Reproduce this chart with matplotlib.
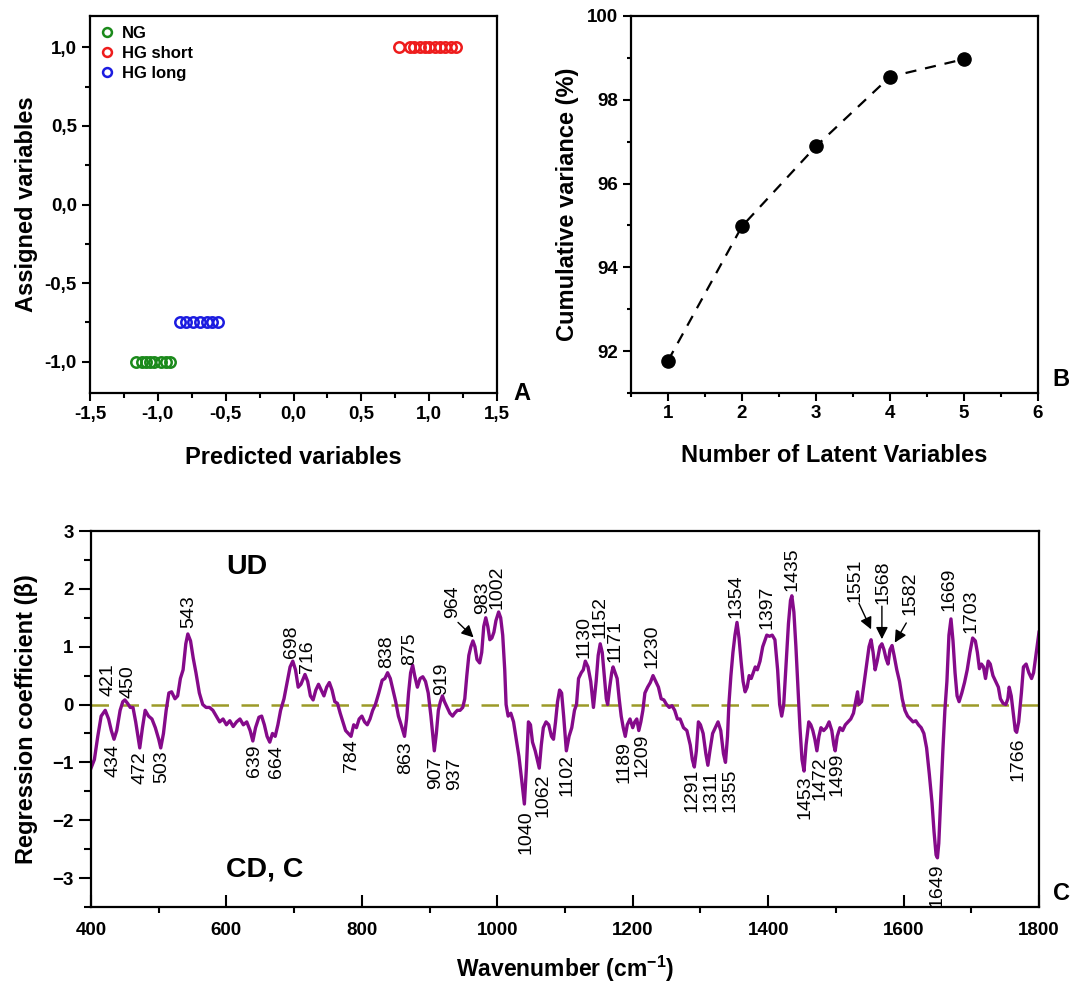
import numpy as np
import matplotlib
matplotlib.use("Agg")
import matplotlib.pyplot as plt
import matplotlib.ticker as ticker

plt.rcParams['font.family'] = ['Liberation Sans', 'DejaVu Sans']
plt.rcParams['font.weight'] = 'bold'
plt.rcParams['axes.labelweight'] = 'bold'
plt.rcParams['mathtext.fontset'] = 'custom'
plt.rcParams['mathtext.rm'] = 'Liberation Sans'
plt.rcParams['mathtext.bf'] = 'Liberation Sans:bold'

# ---- panel A : predicted vs assigned
ng_pred = [-1.16, -1.12, -1.09, -1.06, -1.03, -0.98, -0.94, -0.91]
ng_assigned = [-1.0] * len(ng_pred)
hgs_pred = [0.78, 0.86, 0.89, 0.93, 0.97, 1.00, 1.04, 1.08, 1.12, 1.16, 1.20]
hgs_assigned = [1.0] * len(hgs_pred)
hgl_pred = [-0.84, -0.79, -0.74, -0.69, -0.64, -0.60, -0.56]
hgl_assigned = [-0.75] * len(hgl_pred)

# ---- panel B : cumulative variance
n_lv = [1, 2, 3, 4, 5]
cum_var = [91.77, 94.98, 96.89, 98.55, 98.97]

# ---- panel C : regression coefficients
wn = [400, 405, 410, 415, 421, 426, 430, 434, 438, 443, 447, 450, 454, 458, 462, 466,
      472, 476, 480, 485, 490, 495, 500, 503, 507, 511, 515, 519, 524, 528, 532, 536,
      540, 543, 547, 551, 555, 560, 565, 570, 575, 580, 585, 590, 595, 600, 605, 610,
      615, 620, 625, 630, 635, 639, 643, 648, 652, 656, 660, 664, 668, 672, 676, 680,
      685, 690, 694, 698, 702, 706, 710, 716, 720, 724, 728, 732, 736, 740, 744, 748,
      752, 756, 760, 764, 768, 772, 776, 780, 784, 788, 792, 796, 800, 804, 808, 812,
      816, 820, 825, 830, 834, 838, 842, 846, 850, 854, 858, 863, 866, 869, 872, 875,
      878, 882, 886, 890, 894, 898, 902, 905, 907, 910, 913, 916, 919, 922, 926, 930,
      934, 937, 941, 945, 949, 952, 955, 958, 961, 964, 967, 970, 974, 977, 980, 983,
      986, 989, 992, 995, 998, 1002, 1005, 1008, 1011, 1013, 1016, 1020, 1024, 1028,
      1032, 1036, 1040, 1043, 1046, 1049, 1052, 1056, 1059, 1062, 1065, 1068, 1072,
      1076, 1080, 1083, 1086, 1089, 1092, 1095, 1098, 1102, 1106, 1110, 1114, 1117,
      1120, 1124, 1127, 1130, 1134, 1138, 1142, 1146, 1149, 1152, 1155, 1158, 1161,
      1163, 1166, 1169, 1171, 1174, 1177, 1180, 1183, 1186, 1189, 1192, 1196, 1200,
      1203, 1206, 1209, 1212, 1215, 1218, 1222, 1226, 1230, 1234, 1238, 1242, 1246,
      1250, 1254, 1258, 1262, 1266, 1270, 1275, 1280, 1285, 1288, 1291, 1294, 1297,
      1300, 1304, 1308, 1311, 1314, 1318, 1322, 1326, 1330, 1334, 1337, 1340, 1342,
      1345, 1348, 1351, 1354, 1357, 1360, 1363, 1366, 1369, 1372, 1375, 1378, 1381,
      1384, 1388, 1392, 1395, 1398, 1402, 1406, 1410, 1414, 1417, 1420, 1423, 1426,
      1430, 1433, 1435, 1438, 1441, 1444, 1447, 1450, 1453, 1456, 1460, 1463, 1466,
      1469, 1472, 1475, 1478, 1482, 1486, 1490, 1494, 1497, 1499, 1502, 1506, 1510,
      1514, 1518, 1522, 1526, 1530, 1532, 1534, 1538, 1542, 1546, 1549, 1552, 1555,
      1558, 1561, 1565, 1568, 1571, 1574, 1577, 1580, 1583, 1586, 1590, 1594, 1598,
      1602, 1606, 1610, 1614, 1618, 1622, 1626, 1630, 1634, 1638, 1642, 1645, 1648,
      1650, 1652, 1655, 1658, 1661, 1664, 1667, 1670, 1673, 1676, 1679, 1682, 1686,
      1690, 1694, 1698, 1702, 1706, 1709, 1712, 1715, 1718, 1721, 1725, 1728, 1732,
      1736, 1740, 1743, 1747, 1751, 1754, 1756, 1759, 1762, 1765, 1767, 1770, 1774,
      1777, 1781, 1785, 1789, 1792, 1796, 1800]
beta = [-1.10, -0.95, -0.55, -0.20, -0.10, -0.25, -0.45, -0.60, -0.45, -0.10, 0.05, 0.08, 0.02, -0.05, -0.05, -0.30,
        -0.75, -0.40, -0.10, -0.20, -0.25, -0.40, -0.60, -0.75, -0.50, -0.10, 0.20, 0.22, 0.10, 0.15, 0.45, 0.60,
        1.05, 1.22, 1.10, 0.80, 0.55, 0.20, 0.00, -0.05, -0.05, -0.10, -0.20, -0.30, -0.25, -0.35, -0.28, -0.38,
        -0.30, -0.25, -0.35, -0.30, -0.45, -0.63, -0.40, -0.22, -0.20, -0.35, -0.55, -0.65, -0.50, -0.55, -0.35, -0.10,
        0.10, 0.40, 0.65, 0.75, 0.60, 0.30, 0.35, 0.52, 0.40, 0.15, 0.08, 0.25, 0.35, 0.25, 0.15, 0.30,
        0.38, 0.25, 0.05, 0.02, -0.15, -0.30, -0.45, -0.50, -0.55, -0.35, -0.40, -0.25, -0.20, -0.30, -0.35, -0.25,
        -0.10, 0.00, 0.20, 0.42, 0.45, 0.55, 0.45, 0.25, 0.05, -0.20, -0.35, -0.55, -0.25, 0.20, 0.55, 0.68,
        0.50, 0.30, 0.45, 0.48, 0.40, 0.20, -0.20, -0.55, -0.80, -0.50, -0.10, 0.05, 0.15, 0.05, -0.05, -0.15,
        -0.20, -0.15, -0.10, -0.10, -0.05, 0.10, 0.50, 0.85, 1.00, 1.10, 1.00, 0.78, 0.72, 0.90, 1.35, 1.50,
        1.35, 1.12, 1.15, 1.25, 1.45, 1.60, 1.50, 1.20, 0.60, 0.00, -0.20, -0.15, -0.30, -0.60,
        -0.90, -1.30, -1.72, -1.10, -0.30, -0.35, -0.65, -0.80, -0.95, -1.10, -0.70, -0.40, -0.30,
        -0.35, -0.55, -0.60, -0.30, 0.05, 0.25, 0.20, -0.20, -0.80, -0.55, -0.40, -0.10, 0.00,
        0.45, 0.55, 0.60, 0.75, 0.65, 0.40, -0.05, 0.40, 0.85, 1.05, 0.90, 0.50, 0.10,
        0.00, 0.30, 0.55, 0.65, 0.55, 0.45, 0.10, -0.20, -0.40, -0.55, -0.35, -0.25, -0.40,
        -0.30, -0.25, -0.45, -0.30, -0.10, 0.20, 0.30, 0.38, 0.50, 0.40, 0.30, 0.10, 0.08,
        0.00, -0.05, -0.02, -0.10, -0.25, -0.25, -0.40, -0.45, -0.70, -0.95, -1.08, -0.80, -0.30,
        -0.35, -0.50, -0.85, -1.05, -0.80, -0.50, -0.40, -0.30, -0.45, -0.85, -1.00, -0.55, 0.00,
        0.50, 0.90, 1.20, 1.42, 1.15, 0.75, 0.40, 0.22, 0.30, 0.50, 0.45, 0.55, 0.65,
        0.60, 0.75, 1.00, 1.10, 1.20, 1.18, 1.20, 1.12, 0.60, 0.00, -0.20, 0.00, 0.60,
        1.40, 1.80, 1.88, 1.60, 1.00, 0.30, -0.40, -0.95, -1.15, -0.70, -0.30, -0.35, -0.45,
        -0.60, -0.80, -0.55, -0.40, -0.45, -0.40, -0.30, -0.45, -0.70, -0.80, -0.55, -0.40, -0.45,
        -0.35, -0.30, -0.25, -0.15, 0.10, 0.22, 0.00, 0.05, 0.40, 0.75, 1.00, 1.12, 0.90,
        0.60, 0.75, 1.00, 1.05, 0.95, 0.80, 0.70, 0.95, 1.02, 0.85, 0.60, 0.40, 0.10,
        -0.10, -0.20, -0.25, -0.30, -0.28, -0.35, -0.40, -0.50, -0.75, -1.20, -1.70, -2.20, -2.60,
        -2.65, -2.40, -1.60, -0.80, -0.10, 0.40, 1.20, 1.48, 1.10, 0.55, 0.15, 0.05, 0.20,
        0.38, 0.60, 0.90, 1.15, 1.10, 0.90, 0.62, 0.70, 0.65, 0.45, 0.75, 0.70, 0.50,
        0.40, 0.30, 0.10, 0.02, 0.00, 0.10, 0.30, 0.15, -0.15, -0.45, -0.48, -0.30, 0.20,
        0.65, 0.70, 0.55, 0.45, 0.55, 0.90, 1.25]

# band labels: text, x of label, y of label edge
up_labels = [("421", 425, 0.14), ("450", 455, 0.12), ("543", 544, 1.33), ("698", 696, 0.81),
             ("716", 719, 0.55), ("838", 837, 0.64), ("875", 871, 0.69), ("919", 918, 0.16),
             ("964", 934, 1.49), ("983", 978, 1.56), ("1002", 1000, 1.65), ("1130", 1128, 0.80),
             ("1152", 1152, 1.15), ("1171", 1174, 0.74), ("1230", 1229, 0.63), ("1354", 1353, 1.49),
             ("1397", 1398, 1.31), ("1435", 1435, 1.96), ("1551", 1529, 1.78), ("1568", 1570, 1.73),
             ("1582", 1609, 1.55), ("1669", 1667, 1.61), ("1703", 1700, 1.23)]
down_labels = [("434", 432, -0.69), ("472", 473, -0.80), ("503", 505, -0.80), ("639", 642, -0.69),
               ("664", 674, -0.71), ("784", 785, -0.60), ("863", 864, -0.63), ("907", 909, -0.89),
               ("937", 937, -0.91), ("1040", 1043, -1.83), ("1062", 1068, -1.20), ("1102", 1103, -0.86),
               ("1189", 1187, -0.63), ("1209", 1214, -0.51), ("1291", 1288, -1.11), ("1311", 1315, -1.14),
               ("1355", 1343, -1.11), ("1453", 1455, -1.23), ("1472", 1477, -0.89), ("1499", 1502, -0.83),
               ("1649", 1650, -2.74), ("1766", 1769, -0.57)]
arrows = [((942, 1.42), (965, 1.16)), ((1534, 1.75), (1552, 1.30)),
          ((1568, 1.70), (1568, 1.13)), ((1604, 1.41), (1587, 1.07))]


def comma(x, pos):
    return '{:.1f}'.format(x).replace('.', ',')


fig = plt.figure(figsize=(10.72, 9.83), dpi=100)
W, H = 1072.0, 983.0
axA = fig.add_axes([90 / W, 1 - 393 / H, 407 / W, 377 / H])
axB = fig.add_axes([631 / W, 1 - 393 / H, 407 / W, 377 / H])
axC = fig.add_axes([91 / W, 1 - 907 / H, 948 / W, 376 / H])

for ax in (axA, axB, axC):
    for s in ax.spines.values():
        s.set_linewidth(1.6)
    ax.tick_params(which='both', width=1.5, labelsize=13.5, top=False, right=False)

# ---- A
axA.plot(ng_pred, ng_assigned, 'o', mfc='none', mec='#1b8a1b', mew=1.8, ms=7.5, label='NG')
axA.plot(hgs_pred, hgs_assigned, 'o', mfc='none', mec='#ee1c1c', mew=1.8, ms=7.5, label='HG short')
axA.plot(hgl_pred, hgl_assigned, 'o', mfc='none', mec='#1c1ce0', mew=1.8, ms=7.5, label='HG long')
axA.set_xlim(-1.5, 1.5)
axA.set_ylim(-1.2, 1.2)
axA.xaxis.set_major_locator(ticker.MultipleLocator(0.5))
axA.xaxis.set_minor_locator(ticker.MultipleLocator(0.25))
axA.yaxis.set_major_locator(ticker.FixedLocator([-1, -0.5, 0, 0.5, 1]))
axA.yaxis.set_minor_locator(ticker.FixedLocator([-0.75, -0.25, 0.25, 0.75]))
axA.xaxis.set_major_formatter(ticker.FuncFormatter(comma))
axA.yaxis.set_major_formatter(ticker.FuncFormatter(comma))
axA.tick_params(which='major', direction='out', length=6)
axA.tick_params(which='minor', direction='out', length=3.5)
axA.legend(loc='upper left', frameon=False, fontsize=12, handlelength=0.8,
           handletextpad=0.5, labelspacing=0.3, borderaxespad=0.4, borderpad=0.2,
           markerscale=0.85)
axA.set_xlabel('Predicted variables', fontsize=17, va='center')
axA.xaxis.set_label_coords(0.5, -0.17)
axA.set_ylabel('Assigned variables', fontsize=17, va='center')
axA.yaxis.set_label_coords(-0.155, 0.5)
axA.text(1.04, 0.0, 'A', transform=axA.transAxes, fontsize=17, va='center', ha='left')

# ---- B
axB.plot(n_lv, cum_var, color='k', lw=1.6, dashes=(5, 4), marker='o', ms=9.5)
axB.set_xlim(0.5, 6)
axB.set_ylim(91, 100)
axB.xaxis.set_major_locator(ticker.MultipleLocator(1))
axB.xaxis.set_minor_locator(ticker.MultipleLocator(0.5))
axB.yaxis.set_major_locator(ticker.MultipleLocator(2))
axB.yaxis.set_minor_locator(ticker.MultipleLocator(1))
axB.tick_params(which='major', direction='out', length=5.5)
axB.tick_params(which='minor', direction='out', length=3)
axB.set_xlabel('Number of Latent Variables', fontsize=17, va='center')
axB.xaxis.set_label_coords(0.5, -0.165)
axB.set_ylabel('Cumulative variance (%)', fontsize=17, va='center')
axB.yaxis.set_label_coords(-0.157, 0.5)
axB.text(1.035, 0.035, 'B', transform=axB.transAxes, fontsize=17, va='center', ha='left')

# ---- C
axC.plot(wn, beta, color='#850a8a', lw=2.4)
axC.axhline(0, color='#9c9a28', lw=1.8, dashes=(7, 5), zorder=1)
axC.set_xlim(400, 1800)
axC.set_ylim(-3.5, 3)
axC.xaxis.set_major_locator(ticker.MultipleLocator(200))
axC.xaxis.set_minor_locator(ticker.MultipleLocator(100))
axC.yaxis.set_major_locator(ticker.MultipleLocator(1))
axC.yaxis.set_minor_locator(ticker.MultipleLocator(0.5))
axC.tick_params(axis='x', which='major', direction='in', length=9, pad=11)
axC.tick_params(axis='x', which='minor', direction='out', length=4.5)
axC.tick_params(axis='y', which='major', direction='out', length=9)
axC.tick_params(axis='y', which='minor', direction='out', length=5)

for s, x, y in up_labels:
    axC.text(x, y, s, rotation=90, ha='center', va='bottom', fontsize=14, fontweight='normal')
for s, x, y in down_labels:
    axC.text(x, y, s, rotation=90, ha='center', va='top', fontsize=14, fontweight='normal')
for tail, tip in arrows:
    axC.annotate('', xy=tip, xytext=tail,
                 arrowprops=dict(arrowstyle='-|>', color='k', lw=1.0, mutation_scale=18,
                                 shrinkA=0, shrinkB=0))

axC.text(600, 2.37, 'UD', fontsize=20.5, ha='left', va='center')
axC.text(600, -2.86, 'CD, C', fontsize=20.5, ha='left', va='center')
axC.set_xlabel(r'Wavenumber (cm$^{\mathbf{-1}}$)', fontsize=16.5, va='center')
axC.xaxis.set_label_coords(0.5, -0.165)
axC.set_ylabel('Regression coefficient (\u03b2)', fontsize=17, va='center')
axC.yaxis.set_label_coords(-0.068, 0.5)
axC.text(1.015, 0.035, 'C', transform=axC.transAxes, fontsize=17, va='center', ha='left')

fig.savefig('out.png', dpi=100)
